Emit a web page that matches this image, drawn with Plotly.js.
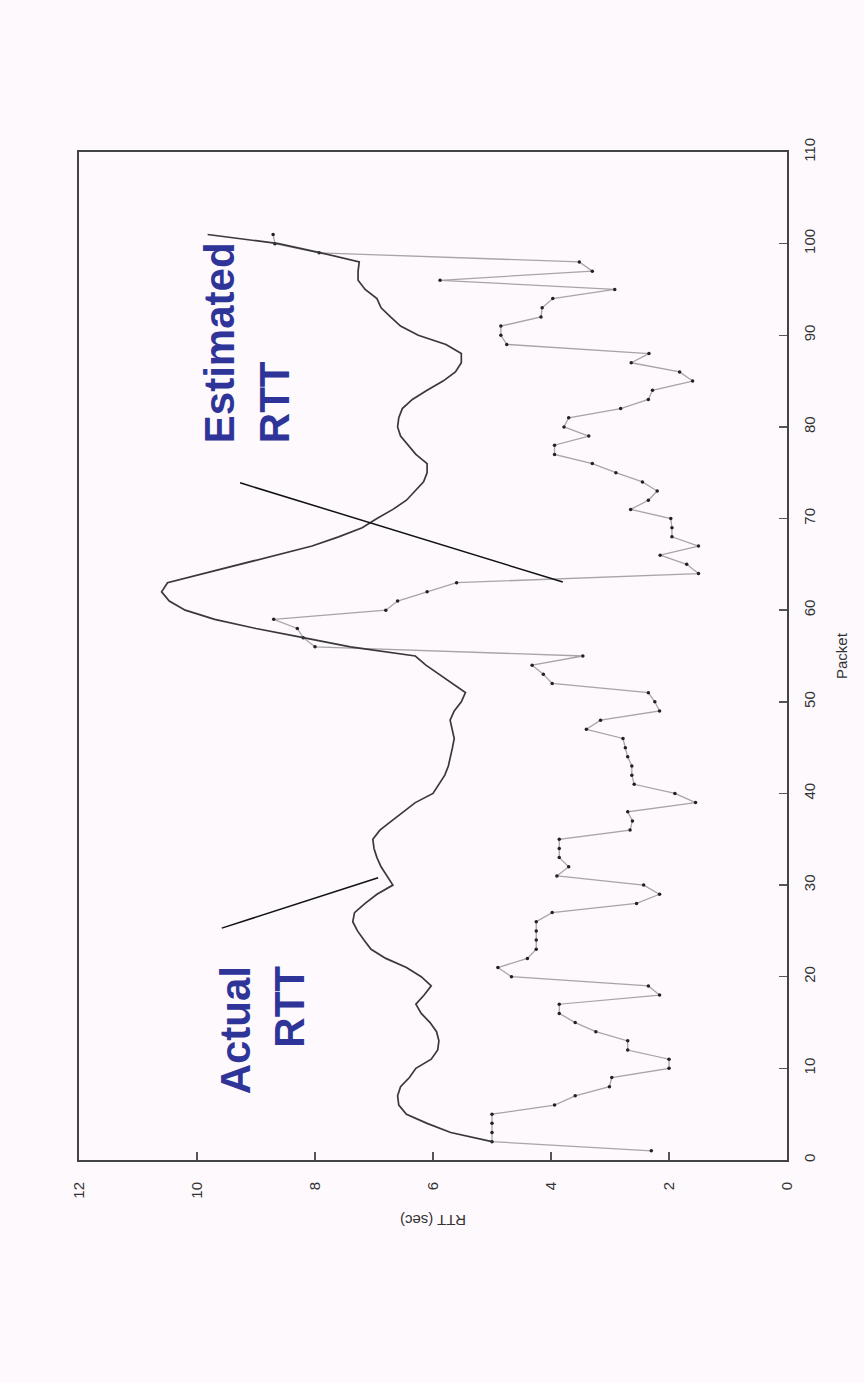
<!DOCTYPE html>
<html>
<head>
<meta charset="utf-8">
<script src="https://cdn.plot.ly/plotly-3.0.1.min.js"></script>
<style>
  html, body { margin: 0; padding: 0; background: #fdf9fd; }
  #chart { width: 864px; height: 1383px; }
</style>
</head>
<body>
<div id="chart"></div>
<script>
// Packet numbers and RTT (sec) values
var estPackets = [1,2,3,4,5,6,7,8,9,10,11,12,13,14,15,16,17,18,19,20,21,22,23,24,25,26,27,28,29,30,
  31,32,33,34,35,36,37,38,39,40,41,42,43,44,45,46,47,48,49,50,51,52,53,54,55,56,57,58,59,60,
  61,62,63,64,65,66,67,68,69,70,71,72,73,74,75,76,77,78,79,80,81,82,83,84,85,86,87,88,89,90,
  91,92,93,94,95,96,97,98,99,100,101];
var estRTT = [2.3,5.0,5.0,5.0,5.0,3.94,3.59,3.01,2.97,2.0,2.0,2.7,2.7,3.24,3.59,3.86,3.86,2.16,2.35,4.67,
  4.9,4.4,4.25,4.25,4.25,4.25,3.98,2.55,2.16,2.43,3.9,3.7,3.86,3.86,3.86,2.66,2.62,2.7,1.55,1.9,
  2.59,2.63,2.63,2.7,2.74,2.78,3.4,3.16,2.16,2.24,2.35,3.98,4.13,4.32,3.46,8.0,8.2,8.3,8.7,6.8,
  6.6,6.1,5.6,1.5,1.7,2.15,1.5,1.95,1.95,1.97,2.65,2.35,2.2,2.45,2.9,3.3,3.94,3.94,3.36,3.78,
  3.7,2.82,2.35,2.28,1.6,1.82,2.64,2.34,4.75,4.85,4.85,4.17,4.15,3.97,2.92,5.88,3.3,3.52,7.93,8.68,
  8.71];

var actPackets = [2,3,4,5,6,7,8,9,10,11,12,13,14,15,16,17,18,19,20,21,22,23,24,25,26,27,28,29,30,
  31,32,33,34,35,36,37,38,39,40,41,42,43,44,45,46,47,48,49,50,51,52,53,54,55,56,57,58,59,60,
  61,62,63,64,65,66,67,68,69,70,71,72,73,74,75,76,77,78,79,80,81,82,83,84,85,86,87,88,89,90,
  91,92,93,94,95,96,97,98,99,100,101];
var actRTT = [5.0,5.7,6.1,6.45,6.58,6.6,6.55,6.4,6.29,6.03,5.92,5.9,5.94,6.05,6.2,6.29,6.15,6.03,6.2,6.45,
  6.8,7.05,7.17,7.28,7.36,7.33,7.15,6.95,6.68,6.78,6.88,6.95,7.0,7.02,6.9,6.7,6.5,6.3,6.0,5.9,
  5.8,5.74,5.7,5.67,5.64,5.67,5.71,5.64,5.52,5.45,5.68,5.9,6.12,6.3,7.4,8.2,9.0,9.7,10.2,10.47,
  10.6,10.5,9.9,9.3,8.7,8.05,7.6,7.2,6.95,6.68,6.45,6.3,6.16,6.1,6.1,6.29,6.42,6.55,6.6,6.58,
  6.52,6.35,6.1,5.83,5.62,5.52,5.52,5.78,6.25,6.55,6.72,6.88,6.95,7.15,7.27,7.27,7.25,7.9,8.62,9.82];

var rttTicks = [0,2,4,6,8,10,12];
var packetTicks = [0,10,20,30,40,50,60,70,80,90,100,110];

var traces = [
  {
    name: 'Estimated RTT',
    x: estRTT, y: estPackets,
    type: 'scatter', mode: 'lines+markers',
    line: {color: '#a8a4a8', width: 1.3},
    marker: {color: '#222', size: 3.5},
    hoverinfo: 'x+y'
  },
  {
    name: 'Actual RTT',
    x: actRTT, y: actPackets,
    type: 'scatter', mode: 'lines',
    line: {color: '#3a383a', width: 1.7},
    hoverinfo: 'x+y'
  }
];

var labelFont = {family: 'Liberation Sans, Arial, sans-serif', size: 42, color: '#2f3598'};
var axisFont = {family: 'Liberation Sans, Arial, sans-serif', size: 15, color: '#333'};

var layout = {
  width: 864, height: 1383,
  margin: {l: 79, r: 77, t: 152, b: 223},
  paper_bgcolor: '#fdf9fd',
  plot_bgcolor: '#fdf9fd',
  showlegend: false,
  xaxis: {
    range: [12, 0],
    tickvals: rttTicks,
    ticktext: rttTicks.map(String),
    ticks: 'inside', ticklen: 8, tickwidth: 1.5, tickcolor: '#555',
    showline: true, mirror: true, linecolor: '#444', linewidth: 2,
    showgrid: false, zeroline: false,
    tickangle: -90,
    tickfont: axisFont,
    ticklabelstandoff: 14
  },
  yaxis: {
    range: [0, 110],
    side: 'right',
    tickvals: packetTicks,
    ticktext: packetTicks.map(String),
    ticks: 'inside', ticklen: 8, tickwidth: 1.5, tickcolor: '#555',
    showline: true, mirror: true, linecolor: '#444', linewidth: 2,
    showgrid: false, zeroline: false,
    tickangle: -90,
    tickfont: axisFont,
    ticklabelstandoff: 8
  },
  shapes: [
    {type: 'line', xref: 'x', yref: 'y', x0: 9.27, y0: 73.9, x1: 3.80, y1: 63.07,
     line: {color: '#111', width: 1.5}},
    {type: 'line', xref: 'x', yref: 'y', x0: 9.58, y0: 25.3, x1: 6.93, y1: 30.8,
     line: {color: '#111', width: 1.5}}
  ],
  annotations: [
    {text: '<b>Estimated</b><br><b>RTT</b>', xref: 'x', yref: 'y', x: 9.16, y: 89.2,
     textangle: -90, align: 'left', showarrow: false, font: labelFont,
     xanchor: 'center', yanchor: 'middle'},
    {text: '<b>Actual</b><br><b>RTT</b>', xref: 'x', yref: 'y', x: 8.89, y: 14.2,
     textangle: -90, align: 'right', showarrow: false, font: labelFont,
     xanchor: 'center', yanchor: 'middle'},
    {text: 'RTT (sec)', xref: 'paper', yref: 'paper', x: 0.5, y: 0, yshift: -61,
     textangle: 180, showarrow: false, font: {family: 'Liberation Sans, Arial, sans-serif', size: 15, color: '#333'},
     xanchor: 'center', yanchor: 'middle'},
    {text: 'Packet', xref: 'paper', yref: 'paper', x: 1, y: 0.5, xshift: 54,
     textangle: -90, showarrow: false, font: {family: 'Liberation Sans, Arial, sans-serif', size: 15, color: '#333'},
     xanchor: 'center', yanchor: 'middle'}
  ]
};

Plotly.newPlot('chart', traces, layout, {displayModeBar: false, staticPlot: true});
</script>
</body>
</html>
